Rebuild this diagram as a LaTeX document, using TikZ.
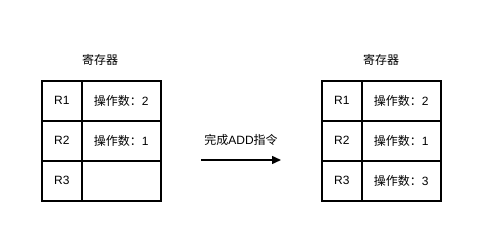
\documentclass[tikz,border=0pt]{standalone}
\usepackage{fontspec}
\setmainfont{Liberation Sans}
\newfontfamily\cjk{Noto Sans CJK SC}
\usetikzlibrary{arrows.meta}
\begin{document}
\begin{tikzpicture}[x=1pt,y=-1pt,
  every node/.style={font=\fontsize{12}{14}\selectfont},
  namecell/.style={draw=black,line width=1.6pt,minimum width=40pt,minimum height=40pt,inner sep=0pt,anchor=north west},
  valcell/.style={draw=black,line width=1.6pt,minimum width=79pt,minimum height=40pt,inner sep=0pt,anchor=north west},
  title/.style={font=\cjk\fontsize{12}{14}\selectfont},
  flow/.style={line width=1.5pt,-{Triangle[length=9pt,width=8pt]}}]
\useasboundingbox (0,0) rectangle (482,241);
% left register file
\node[title] (tl) at (100,60) {寄存器};
\node[namecell] (l1) at (41,80) {R1};
\node[valcell]  (lv1) at (81,80) {{\cjk 操作数：}2};
\node[namecell] (l2) at (41,120) {R2};
\node[valcell]  (lv2) at (81,120) {{\cjk 操作数：}1};
\node[namecell] (l3) at (41,160) {R3};
\node[valcell]  (lv3) at (81,160) {};
% right register file
\node[title] (tr) at (381,60) {寄存器};
\node[namecell] (r1) at (321,80) {R1};
\node[valcell]  (rv1) at (361,80) {{\cjk 操作数：}2};
\node[namecell] (r2) at (321,120) {R2};
\node[valcell]  (rv2) at (361,120) {{\cjk 操作数：}1};
\node[namecell] (r3) at (321,160) {R3};
\node[valcell]  (rv3) at (361,160) {{\cjk 操作数：}3};
% transition
\coordinate (a0) at (201,160);
\coordinate (a1) at (281,160);
\draw[flow] (a0) -- (a1);
\node (lab) at (241,140) {{\cjk 完成}ADD{\cjk 指令}};
\end{tikzpicture}
\end{document}
